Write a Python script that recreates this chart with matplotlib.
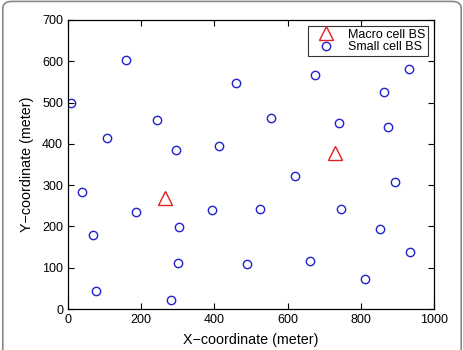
import matplotlib.pyplot as plt
from matplotlib.patches import FancyBboxPatch

plt.rcParams['font.family'] = ['Liberation Sans', 'DejaVu Sans']

# macro cell base stations (meters)
macro_x = [264, 730]
macro_y = [268, 377]

# small cell base stations (meters)
small_x = [9, 106, 158, 242, 294, 414, 458, 37, 67, 76, 187, 304, 300, 281, 393,
           675, 932, 863, 555, 742, 875, 620, 893, 526, 747, 854, 936, 661, 489, 811]
small_y = [500, 415, 604, 458, 385, 396, 548, 284, 180, 44, 235, 199, 111, 22, 240,
           566, 581, 525, 463, 450, 441, 323, 308, 242, 243, 195, 137, 116, 108, 73]

fig = plt.figure(figsize=(4.64, 3.5), dpi=100)
ax = fig.add_axes([0.1466, 0.117, 0.935 - 0.1466, 0.943 - 0.117])

ax.plot(macro_x, macro_y, '^', color='#e02020', markerfacecolor='none',
        markersize=10, markeredgewidth=1.0, label='Macro cell BS')
ax.plot(small_x, small_y, 'o', color='#2222cc', markerfacecolor='none',
        markersize=6, markeredgewidth=1.0, label='Small cell BS')

ax.set_xlim(0, 1000)
ax.set_ylim(0, 700)
ax.set_xticks(range(0, 1001, 200))
ax.set_yticks(range(0, 701, 100))
ax.tick_params(direction='in', top=True, right=True, labelsize=9, length=4, width=0.8)
for s in ax.spines.values():
    s.set_linewidth(0.9)

ax.set_xlabel('X\u2212coordinate (meter)', fontsize=10.3, labelpad=5)
ax.set_ylabel('Y\u2212coordinate (meter)', fontsize=10.3, labelpad=6)

leg = ax.legend(loc='upper right', fontsize=9, frameon=True, fancybox=False,
                borderaxespad=0.5, handletextpad=0.4, borderpad=0.2,
                labelspacing=0.05, handlelength=2.6)
leg.get_frame().set_edgecolor('black')
leg.get_frame().set_linewidth(0.8)

# rounded frame around the whole figure (bottom edge falls outside the image)
border = FancyBboxPatch((0.006, -0.05), 0.988, 1.046, boxstyle='round,pad=0,rounding_size=0.02',
                        transform=fig.transFigure, fill=False, edgecolor='#888888', linewidth=1.2,
                        clip_on=False)
fig.patches.append(border)

fig.savefig('out.png', dpi=100)
